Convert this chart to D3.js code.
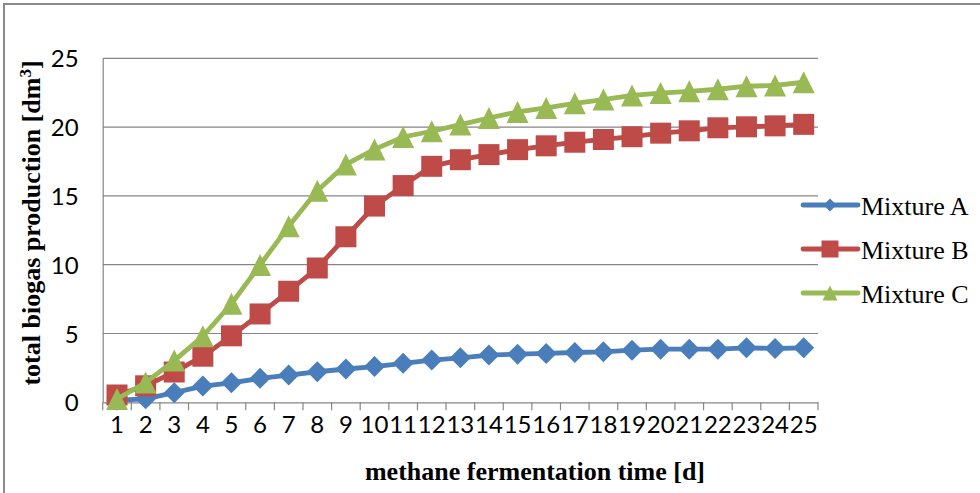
<!DOCTYPE html>
<html>
<head>
<meta charset="utf-8">
<script src="https://cdn.jsdelivr.net/npm/d3@7"></script>
<style>
  html, body { margin: 0; padding: 0; background: #fff; }
  svg { display: block; }
</style>
</head>
<body>
<svg id="chart" width="980" height="493"></svg>
<script>
// Fermentation days (x categories)
const days = [1, 2, 3, 4, 5, 6, 7, 8, 9, 10, 11, 12, 13, 14, 15, 16, 17, 18, 19, 20, 21, 22, 23, 24, 25];
// Cumulative biogas production [dm3]
const mixtureA = [0.15, 0.25, 0.7, 1.18, 1.42, 1.74, 1.98, 2.22, 2.42, 2.6, 2.83, 3.07, 3.23, 3.43, 3.5, 3.55, 3.62, 3.67, 3.79, 3.86, 3.86, 3.86, 3.96, 3.91, 3.96];
const mixtureB = [0.53, 1.2, 2.2, 3.35, 4.83, 6.42, 8.07, 9.76, 12.03, 14.26, 15.75, 17.15, 17.63, 18.0, 18.36, 18.64, 18.9, 19.1, 19.3, 19.56, 19.73, 19.95, 20.02, 20.09, 20.2];
const mixtureC = [0.24, 1.43, 3.03, 4.8, 7.16, 9.98, 12.79, 15.37, 17.29, 18.38, 19.28, 19.7, 20.18, 20.66, 21.1, 21.39, 21.73, 22.0, 22.3, 22.47, 22.6, 22.75, 22.97, 23.03, 23.26];
const yTicks = [0, 5, 10, 15, 20, 25];
const seriesNames = ["Mixture A", "Mixture B", "Mixture C"];

const series = [
  { name: seriesNames[0], values: mixtureA, color: "#4a7ebb", marker: "diamond" },
  { name: seriesNames[1], values: mixtureB, color: "#be4b48", marker: "square" },
  { name: seriesNames[2], values: mixtureC, color: "#98b954", marker: "triangle" }
];

const svg = d3.select("#chart");
const plot = { left: 102.7, right: 818, top: 58.3, bottom: 402.3 };

const x = d3.scaleBand().domain(days).range([plot.left, plot.right]).padding(0);
const y = d3.scaleLinear().domain([0, 25]).range([plot.bottom, plot.top]);
const cx = d => x(d) + x.bandwidth() / 2;

const gridColor = "#868686";
const tickFont = "Lato, 'Open Sans', sans-serif";
const serif = "'Liberation Serif', 'Times New Roman', serif";

// Outer chart border
svg.append("rect")
  .attr("x", 4).attr("y", 4).attr("width", 990).attr("height", 500)
  .attr("fill", "none").attr("stroke", "#8a8a8a").attr("stroke-width", 2);

// Horizontal gridlines
svg.append("g").selectAll("line").data(yTicks.filter(t => t > 0)).join("line")
  .attr("x1", plot.left).attr("x2", plot.right)
  .attr("y1", d => y(d)).attr("y2", d => y(d))
  .attr("stroke", gridColor).attr("stroke-width", 1.2);

// Y axis
const yAxis = svg.append("g")
  .attr("transform", `translate(${plot.left},0)`)
  .call(d3.axisLeft(y).tickValues(yTicks).tickSize(0).tickPadding(24));
yAxis.select(".domain").attr("stroke", gridColor).attr("stroke-width", 1.2);
yAxis.selectAll("text")
  .attr("font-family", tickFont).attr("font-size", 24).attr("fill", "#000")
  .attr("dy", "0.36em");

// X axis
const xAxis = svg.append("g")
  .attr("transform", `translate(0,${plot.bottom})`)
  .call(d3.axisBottom(x).tickValues(days).tickSize(0).tickPadding(14));
xAxis.select(".domain").attr("stroke", gridColor).attr("stroke-width", 1.2);
xAxis.selectAll("text")
  .attr("font-family", tickFont).attr("font-size", 24).attr("fill", "#000")
  .attr("dy", "0.71em");
// tick marks at the category boundaries
const bounds = days.map(d => x(d)).concat([plot.right]);
xAxis.append("g").selectAll("line").data(bounds).join("line")
  .attr("x1", d => d).attr("x2", d => d)
  .attr("y1", 0).attr("y2", 8)
  .attr("stroke", gridColor).attr("stroke-width", 1.2);

// Marker shapes, centred on their bounding box
function markerPath(type, s) {
  const h = s / 2;
  if (type === "diamond") return `M0,${-h}L${h},0L0,${h}L${-h},0Z`;
  if (type === "square") return `M${-h},${-h}H${h}V${h}H${-h}Z`;
  return `M0,${-h}L${h},${h}L${-h},${h}Z`;
}
const markerSize = { diamond: 21, square: 21, triangle: 22 };

// Series lines and markers
const line = d3.line().x((v, i) => cx(days[i])).y(v => y(v));
series.forEach(s => {
  const g = svg.append("g");
  g.append("path").datum(s.values)
    .attr("d", line).attr("fill", "none")
    .attr("stroke", s.color).attr("stroke-width", 4.8)
    .attr("stroke-linejoin", "round").attr("stroke-linecap", "round");
  g.selectAll("path.m").data(s.values).join("path")
    .attr("class", "m")
    .attr("transform", (v, i) => `translate(${cx(days[i])},${y(v)})`)
    .attr("d", markerPath(s.marker, markerSize[s.marker]))
    .attr("fill", s.color);
});

// Legend
const legend = svg.append("g");
const legendSize = { diamond: 13, square: 17, triangle: 15 };
series.forEach((s, i) => {
  const ly = 205 + i * 44;
  const g = legend.append("g").attr("transform", `translate(0,${ly})`);
  g.append("line").attr("x1", 803).attr("x2", 858).attr("y1", 0).attr("y2", 0)
    .attr("stroke", s.color).attr("stroke-width", 4.8).attr("stroke-linecap", "round");
  g.append("path").attr("transform", "translate(830,0)")
    .attr("d", markerPath(s.marker, legendSize[s.marker])).attr("fill", s.color);
  g.append("text").attr("x", 861).attr("y", 10)
    .attr("font-family", serif).attr("font-size", 26).attr("fill", "#000")
    .text(s.name);
});

// Axis titles
svg.append("text")
  .attr("x", 535).attr("y", 480)
  .attr("text-anchor", "middle")
  .attr("font-family", serif).attr("font-size", 26).attr("font-weight", "bold")
  .text("methane fermentation time [d]");

const yTitle = svg.append("text")
  .attr("transform", "translate(40,223) rotate(-90)")
  .attr("text-anchor", "middle")
  .attr("font-family", serif).attr("font-size", 26).attr("font-weight", "bold");
yTitle.append("tspan").text("total biogas production [dm");
yTitle.append("tspan").attr("baseline-shift", "super").attr("font-size", 17).text("3");
yTitle.append("tspan").text("]");
</script>
</body>
</html>
